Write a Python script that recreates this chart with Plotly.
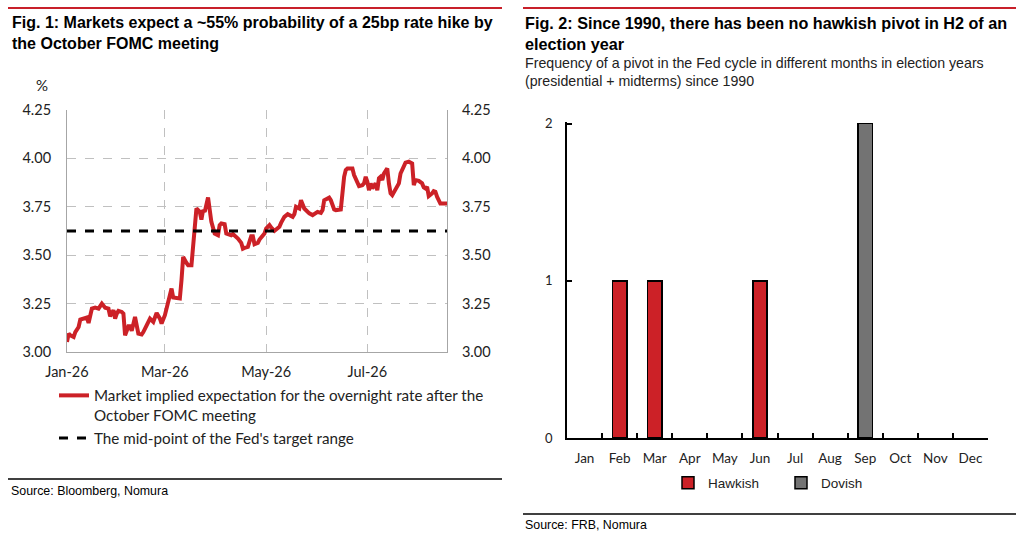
import plotly.graph_objects as go

# Fig 1 - market implied rate after Oct FOMC
dates = ["2026-01-01", "2026-01-02", "2026-01-03", "2026-01-05", "2026-01-06", "2026-01-08", "2026-01-09",
         "2026-01-12", "2026-01-13", "2026-01-14", "2026-01-16", "2026-01-18", "2026-01-20", "2026-01-22",
         "2026-01-24", "2026-01-26", "2026-01-27", "2026-01-29", "2026-01-30", "2026-01-31", "2026-02-01",
         "2026-02-03", "2026-02-04", "2026-02-05", "2026-02-07", "2026-02-08", "2026-02-09", "2026-02-11",
         "2026-02-12", "2026-02-13", "2026-02-15", "2026-02-16", "2026-02-18", "2026-02-20", "2026-02-22",
         "2026-02-23", "2026-02-24", "2026-02-26", "2026-02-27", "2026-03-01", "2026-03-02", "2026-03-04",
         "2026-03-05", "2026-03-06", "2026-03-08", "2026-03-10", "2026-03-11", "2026-03-12", "2026-03-14",
         "2026-03-15", "2026-03-17", "2026-03-18", "2026-03-20", "2026-03-22", "2026-03-23", "2026-03-24",
         "2026-03-25", "2026-03-27", "2026-03-28", "2026-03-29", "2026-03-31", "2026-04-02", "2026-04-03",
         "2026-04-04", "2026-04-06", "2026-04-07", "2026-04-08", "2026-04-10", "2026-04-11", "2026-04-13",
         "2026-04-14", "2026-04-16", "2026-04-17", "2026-04-18", "2026-04-20", "2026-04-22", "2026-04-23",
         "2026-04-24", "2026-04-26", "2026-04-27", "2026-04-29", "2026-04-30", "2026-05-01", "2026-05-03",
         "2026-05-04", "2026-05-06", "2026-05-07", "2026-05-09", "2026-05-10", "2026-05-12", "2026-05-14",
         "2026-05-15", "2026-05-17", "2026-05-18", "2026-05-19", "2026-05-21", "2026-05-22", "2026-05-24",
         "2026-05-26", "2026-05-27", "2026-05-29", "2026-05-31", "2026-06-01", "2026-06-03", "2026-06-04",
         "2026-06-05", "2026-06-07", "2026-06-08", "2026-06-09", "2026-06-11", "2026-06-12", "2026-06-14",
         "2026-06-15", "2026-06-17", "2026-06-18", "2026-06-19", "2026-06-22", "2026-06-23", "2026-06-25",
         "2026-06-26", "2026-06-28", "2026-06-29", "2026-06-30", "2026-07-01", "2026-07-02", "2026-07-03",
         "2026-07-04", "2026-07-06", "2026-07-07", "2026-07-08", "2026-07-09", "2026-07-10", "2026-07-11",
         "2026-07-13", "2026-07-14", "2026-07-15", "2026-07-16", "2026-07-18", "2026-07-19", "2026-07-20",
         "2026-07-21", "2026-07-23", "2026-07-24", "2026-07-26", "2026-07-28", "2026-07-29", "2026-07-30",
         "2026-08-01", "2026-08-03", "2026-08-04", "2026-08-05", "2026-08-06", "2026-08-07", "2026-08-09",
         "2026-08-10", "2026-08-11", "2026-08-12", "2026-08-14", "2026-08-16", "2026-08-18"]
implied = [3.052, 3.095, 3.086, 3.078, 3.103, 3.129, 3.167,
           3.178, 3.178, 3.150, 3.224, 3.229, 3.224, 3.250,
           3.229, 3.224, 3.184, 3.216, 3.172, 3.198, 3.212,
           3.207, 3.198, 3.086, 3.133, 3.133, 3.109, 3.181,
           3.133, 3.095, 3.091, 3.103, 3.138, 3.172, 3.155,
           3.178, 3.202, 3.172, 3.147, 3.190, 3.224, 3.284,
           3.328, 3.281, 3.281, 3.276, 3.371, 3.491, 3.460,
           3.448, 3.448, 3.560, 3.741, 3.724, 3.684, 3.733,
           3.724, 3.798, 3.716, 3.672, 3.612, 3.603, 3.655,
           3.664, 3.660, 3.612, 3.609, 3.603, 3.609, 3.595,
           3.586, 3.564, 3.534, 3.538, 3.543, 3.598, 3.598,
           3.557, 3.564, 3.581, 3.603, 3.612, 3.638, 3.655,
           3.643, 3.626, 3.633, 3.647, 3.667, 3.698, 3.712,
           3.707, 3.698, 3.712, 3.750, 3.741, 3.784, 3.741,
           3.724, 3.716, 3.707, 3.716, 3.724, 3.719, 3.733,
           3.784, 3.793, 3.797, 3.784, 3.736, 3.733, 3.733,
           3.736, 3.905, 3.940, 3.948, 3.948, 3.914, 3.879,
           3.857, 3.862, 3.871, 3.905, 3.879, 3.836, 3.871,
           3.845, 3.871, 3.836, 3.897, 3.905, 3.888, 3.922,
           3.948, 3.871, 3.819, 3.810, 3.845, 3.857, 3.871,
           3.922, 3.966, 3.978, 3.983, 3.974, 3.862, 3.888,
           3.884, 3.871, 3.850, 3.845, 3.853, 3.805, 3.819,
           3.831, 3.828, 3.802, 3.767, 3.767, 3.767]
target_mid = 3.625

# Fig 2 - pivots by month in election years since 1990
months = ["Jan", "Feb", "Mar", "Apr", "May", "Jun", "Jul", "Aug", "Sep", "Oct", "Nov", "Dec"]
hawkish = [0, 1, 1, 0, 0, 1, 0, 0, 0, 0, 0, 0]
dovish = [0, 0, 0, 0, 0, 0, 0, 0, 2, 0, 0, 0]

RED = "#CC2127"
GREY_BAR = "#737373"
TFONT = "Liberation Sans"
CFONT = "Lato"

W, H = 1024, 540
def px(x):
    return x / W
def py(y):
    return 1 - y / H

fig = go.Figure()

fig.add_trace(go.Scatter(
    x=dates, y=implied, mode="lines",
    line=dict(color=RED, width=4),
    name="Market implied expectation for the overnight rate after the<br>October FOMC meeting",
    legend="legend"))
fig.add_trace(go.Scatter(
    x=[dates[0], dates[-1]], y=[target_mid, target_mid], mode="lines",
    line=dict(color="black", width=3, dash="dash"),
    name="The mid-point of the Fed's target range",
    legend="legend"))
# dummy trace so the right-hand axis gets drawn
fig.add_trace(go.Scatter(
    x=dates, y=implied, yaxis="y2", mode="lines",
    line=dict(width=0), opacity=0, showlegend=False, hoverinfo="skip"))

# empty months left blank so no outline shows on the baseline
fig.add_trace(go.Bar(
    x=months, y=[v if v else None for v in hawkish], name="Hawkish", xaxis="x2", yaxis="y3",
    marker=dict(color=RED, line=dict(color="black", width=1.5)),
    width=0.41, legend="legend2"))
fig.add_trace(go.Bar(
    x=months, y=[v if v else None for v in dovish], name="Dovish", xaxis="x2", yaxis="y3",
    marker=dict(color=GREY_BAR, line=dict(color="black", width=1.5)),
    width=0.41, legend="legend2"))

grid = dict(showgrid=True, gridcolor="#C0C0C0", griddash="dash", gridwidth=1)

fig.update_layout(
    width=W, height=H,
    margin=dict(l=0, r=0, t=0, b=0, autoexpand=False),
    paper_bgcolor="white", plot_bgcolor="white",
    barmode="stack",
    font=dict(family=CFONT, size=14, color="#222222"),
    xaxis=dict(domain=[px(67), px(447)], anchor="y", automargin=False,
               type="date", range=["2026-01-01", "2026-08-18"],
               tickvals=["2026-01-01", "2026-03-01", "2026-05-01", "2026-07-01"],
               ticktext=["Jan-26", "Mar-26", "May-26", "Jul-26"],
               showline=True, linecolor="#A6A6A6", linewidth=1,
               ticks="", tickfont=dict(size=14.5), ticklabelstandoff=7, **grid),
    yaxis=dict(domain=[py(352), py(110)], anchor="x", automargin=False,
               range=[3.0, 4.25], tickvals=[3.0, 3.25, 3.5, 3.75, 4.0, 4.25],
               tickformat=".2f", showline=True, linecolor="#A6A6A6", linewidth=1,
               tickfont=dict(size=14.5),
               ticks="", ticklabelstandoff=12, zeroline=False, **grid),
    yaxis2=dict(overlaying="y", side="right", anchor="x", automargin=False,
                range=[3.0, 4.25], tickvals=[3.0, 3.25, 3.5, 3.75, 4.0, 4.25],
                tickformat=".2f", showline=True, linecolor="#A6A6A6", linewidth=1,
                tickfont=dict(size=14.5),
                ticks="", ticklabelstandoff=11, showgrid=False, zeroline=False),
    xaxis2=dict(domain=[px(567), px(988)], anchor="y3", automargin=False,
                type="category", showline=True, linecolor="black", linewidth=1.5,
                ticks="inside", tickson="boundaries", ticklen=5, tickcolor="black",
                tickwidth=1.5, showgrid=False, tickfont=dict(size=13.5), tickangle=0,
                ticklabelstandoff=7),
    yaxis3=dict(domain=[py(438), py(122)], anchor="x2", automargin=False,
                range=[0, 2.01], tickvals=[0, 1, 2], showline=True, linecolor="black",
                linewidth=1.5, ticks="inside", ticklen=5, tickcolor="black", tickwidth=1.5,
                showgrid=False, zeroline=False, tickfont=dict(size=13), ticklabelstandoff=10),
    legend=dict(x=px(54), y=py(379), xanchor="left", yanchor="top",
                valign="top", font=dict(size=15.2, family=CFONT), tracegroupgap=0,
                bgcolor="rgba(0,0,0,0)"),
    legend2=dict(orientation="h", x=px(668), y=py(483), xanchor="left", yanchor="middle",
                 font=dict(size=13.5, family=TFONT), entrywidth=68, traceorder="normal",
                 bgcolor="rgba(0,0,0,0)"),
)

# titles, subtitle, sources
ann = [
    dict(x=px(10), y=py(12), text="<b>Fig. 1: Markets expect a ~55% probability of a 25bp rate hike by<br>the October FOMC meeting</b>",
         font=dict(family=TFONT, size=16, color="black")),
    dict(x=px(523), y=py(12), text="<b>Fig. 2: Since 1990, there has been no hawkish pivot in H2 of an<br>election year</b>",
         font=dict(family=TFONT, size=16.2, color="black")),
    dict(x=px(523), y=py(53), text="Frequency of a pivot in the Fed cycle in different months in election years<br>(presidential + midterms) since 1990",
         font=dict(family=TFONT, size=14.2, color="#222222")),
    dict(x=px(34), y=py(74), text="%", font=dict(family=CFONT, size=15, color="#222222")),
    dict(x=px(9), y=py(482), text="Source: Bloomberg, Nomura", font=dict(family=TFONT, size=12.4, color="black")),
    dict(x=px(523), y=py(516), text="Source: FRB, Nomura", font=dict(family=TFONT, size=12.4, color="black")),
]
for a in ann:
    fig.add_annotation(xref="paper", yref="paper", xanchor="left", yanchor="top",
                       showarrow=False, align="left", **a)

# header and footer rules
rules = [(8, 502, 8, "#C8202A", 2), (523, 1016, 8, "#C8202A", 2),
         (8, 502, 479, "black", 1.5), (523, 1016, 514, "black", 1.5)]
for x0, x1, y0, c, w in rules:
    fig.add_shape(type="line", xref="paper", yref="paper", layer="above",
                  x0=px(x0), x1=px(x1), y0=py(y0), y1=py(y0),
                  line=dict(color=c, width=w))

# drop the default page margin so the figure sits at the window origin
fig.write_html("out.html", config={"displayModeBar": False},
               post_script="document.body.style.margin='0';")
